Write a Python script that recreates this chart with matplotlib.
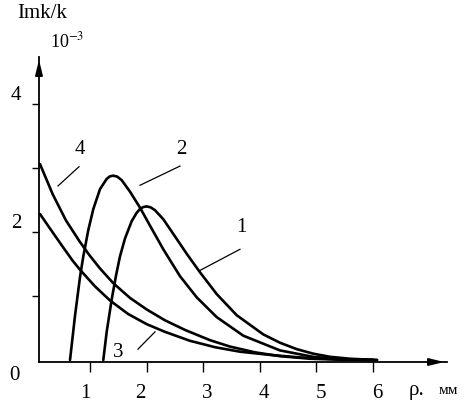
import numpy as np
import matplotlib
matplotlib.use('Agg')
import matplotlib.pyplot as plt

plt.rcParams['font.family'] = ['Liberation Serif', 'DejaVu Serif']
plt.rcParams['mathtext.fontset'] = 'stix'

# curves (rho in mm, Imk/k in 1e-3)
rho_1 = [1.233, 1.293, 1.382, 1.458, 1.528, 1.617, 1.735, 1.823, 1.882, 1.94, 2.0,
         2.07, 2.147, 2.293, 2.47, 2.707, 2.942, 3.237, 3.59, 4.06, 4.355, 4.65,
         4.938, 5.239, 5.592, 6.07]
imk_1 = [0.0, 0.44, 0.95, 1.32, 1.62, 1.90, 2.17, 2.30, 2.36, 2.39, 2.40,
         2.385, 2.34, 2.20, 1.97, 1.66, 1.37, 1.03, 0.70, 0.40, 0.27, 0.17,
         0.10, 0.05, 0.02, 0.0]

rho_2 = [0.645, 0.733, 0.822, 0.880, 0.968, 1.057, 1.175, 1.293, 1.35, 1.410, 1.48,
         1.558, 1.705, 1.882, 2.058, 2.293, 2.588, 2.883, 3.237, 3.707, 4.355, 4.938,
         5.415, 6.07]
imk_2 = [0.0, 0.69, 1.30, 1.62, 2.03, 2.36, 2.67, 2.83, 2.87, 2.88, 2.865,
         2.81, 2.63, 2.38, 2.10, 1.73, 1.31, 0.98, 0.67, 0.38, 0.15, 0.05,
         0.012, 0.0]

rho_3 = [0.115, 0.279, 0.516, 0.693, 0.822, 1.087, 1.352, 1.670, 2.0, 2.323, 2.765,
         3.207, 3.648, 4.178, 4.708, 5.415, 6.0]
imk_3 = [2.28, 2.07, 1.77, 1.55, 1.41, 1.15, 0.93, 0.72, 0.56, 0.44, 0.30,
         0.20, 0.13, 0.08, 0.04, 0.01, 0.0]

rho_4 = [0.115, 0.339, 0.574, 0.809, 0.986, 1.175, 1.410, 1.705, 2.0, 2.323, 2.677,
         3.118, 3.472, 3.913, 4.355, 4.885, 5.415, 6.0]
imk_4 = [3.06, 2.59, 2.18, 1.86, 1.64, 1.43, 1.20, 0.97, 0.79, 0.62, 0.47,
         0.31, 0.21, 0.12, 0.06, 0.02, 0.005, 0.0]

x_ticks = [1, 2, 3, 4, 5, 6]
y_ticks = [1, 2, 3, 4]
y_tick_labels = {2: '2', 4: '4'}

# curve number labels: text pos, leader start, leader end
curve_labels = [
    ('1', (3.67, 2.08), (2.942, 1.40), (3.648, 1.73)),
    ('2', (2.62, 3.30), (1.882, 2.73), (2.588, 3.03)),
    ('3', (1.49, 0.13), (1.846, 0.17), (2.147, 0.44)),
    ('4', (0.82, 3.30), (0.433, 2.72), (0.804, 3.02)),
]

fig = plt.figure(figsize=(4.72, 4.10), dpi=100)
ax = fig.add_axes([39 / 472, 47 / 410, 408 / 472, 305 / 410])
ax.set_xlim(0.097, 7.306)
ax.set_ylim(-0.031, 4.734)

for r, v in [(rho_1, imk_1), (rho_2, imk_2), (rho_3, imk_3), (rho_4, imk_4)]:
    ax.plot(r, v, color='black', lw=1.9, solid_joinstyle='round',
            solid_capstyle='round', clip_on=False)

for txt, pos, p0, p1 in curve_labels:
    ax.plot([p0[0], p1[0]], [p0[1], p1[1]], color='black', lw=0.9)
    ax.text(pos[0], pos[1], txt, fontsize=15, ha='center', va='center')

for s in ['top', 'right']:
    ax.spines[s].set_visible(False)
for s in ['left', 'bottom']:
    ax.spines[s].set_linewidth(1.3)

ax.set_xticks(x_ticks)
ax.set_xticklabels([])
ax.set_yticks(y_ticks)
ax.set_yticklabels([])
ax.tick_params(axis='x', direction='out', length=7, width=1.0)
ax.tick_params(axis='y', direction='out', length=5, width=1.0)

# tick labels, placed a bit irregularly like the scan
for t, dx in zip(x_ticks, [-0.08, -0.12, 0.07, 0.07, 0.07, 0.07]):
    ax.text(t + dx, -0.50, str(t), fontsize=15, ha='center', va='center')
for t, lab in y_tick_labels.items():
    ax.text(-0.31, t + 0.15, lab, fontsize=15, ha='center', va='center')
ax.text(-0.33, -0.22, '0', fontsize=15, ha='center', va='center')

# arrow heads
ax.annotate('', xy=(0, 1.0), xytext=(0, 0.95), xycoords='axes fraction',
            arrowprops=dict(arrowstyle='-|>,head_length=0.9,head_width=0.22',
                            color='black', lw=1.3))
ax.annotate('', xy=(1.0, 0), xytext=(0.95, 0), xycoords='axes fraction',
            arrowprops=dict(arrowstyle='-|>,head_length=0.9,head_width=0.22',
                            color='black', lw=1.3))

fig.text(42 / 472, 1 - 14 / 410, 'Imk/k', fontsize=15, ha='center', va='center')
fig.text(67 / 472, 1 - 41 / 410, '10$^{-3}$', fontsize=13, ha='center', va='center')
fig.text(417 / 472, 1 - 391 / 410, 'ρ.', fontsize=15, ha='center', va='center')
fig.text(448 / 472, 1 - 391 / 410, 'мм', fontsize=11, ha='center', va='center')

fig.savefig('out.png', dpi=100)
